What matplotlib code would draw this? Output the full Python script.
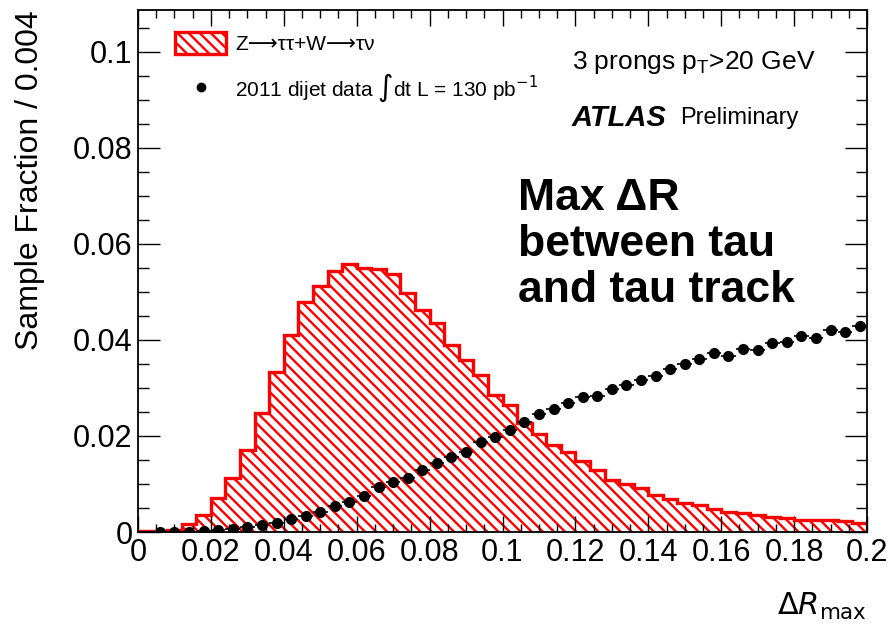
import numpy as np
import matplotlib
matplotlib.use("Agg")
import matplotlib.pyplot as plt
from matplotlib.patches import Patch
from matplotlib.lines import Line2D
from matplotlib.ticker import MultipleLocator

plt.rcParams['font.family'] = ['Liberation Sans', 'DejaVu Sans']
plt.rcParams['hatch.linewidth'] = 1.7
plt.rcParams['hatch.color'] = 'red'

# Bin edges: 50 bins of width 0.004 on [0, 0.2]
bin_edges = np.linspace(0.0, 0.2, 51)

mc_values = [0.0002, 0.0003, 0.0005, 0.0017, 0.0035, 0.0070, 0.0112, 0.0171, 0.0247, 0.0334,
             0.0410, 0.0478, 0.0512, 0.0544, 0.0559, 0.0549, 0.0548, 0.0538, 0.0497, 0.0463,
             0.0435, 0.0390, 0.0358, 0.0327, 0.0285, 0.0265, 0.0226, 0.0205, 0.0181, 0.0167,
             0.0147, 0.0129, 0.0108, 0.0100, 0.0091, 0.0077, 0.0068, 0.0061, 0.0056, 0.0047,
             0.0042, 0.0039, 0.0035, 0.0031, 0.0029, 0.0026, 0.0025, 0.0024, 0.0022, 0.0018]

data_values = [np.nan, 0.0001, 0.0001, 0.0001, 0.0002, 0.0004, 0.0006, 0.0011, 0.0015, 0.0019,
               0.0028, 0.0034, 0.0041, 0.0054, 0.0062, 0.0075, 0.0094, 0.0104, 0.0112, 0.0129,
               0.0143, 0.0157, 0.0167, 0.0187, 0.0197, 0.0212, 0.0230, 0.0245, 0.0256, 0.0268,
               0.0282, 0.0284, 0.0298, 0.0306, 0.0317, 0.0325, 0.0339, 0.0350, 0.0360, 0.0372,
               0.0367, 0.0382, 0.0380, 0.0394, 0.0396, 0.0408, 0.0405, 0.0420, 0.0416, 0.0428]

xticks = [0, 0.02, 0.04, 0.06, 0.08, 0.1, 0.12, 0.14, 0.16, 0.18, 0.2]
xtick_labels = ['0', '0.02', '0.04', '0.06', '0.08', '0.1', '0.12', '0.14', '0.16', '0.18', '0.2']
yticks = [0, 0.02, 0.04, 0.06, 0.08, 0.1]
ytick_labels = ['0', '0.02', '0.04', '0.06', '0.08', '0.1']

fig = plt.figure(figsize=(8.9, 6.26), dpi=100)
ax = fig.add_axes([138/890, 1 - 532/626, (867-138)/890, (532-10)/626])

widths = np.diff(bin_edges)
centers = bin_edges[:-1] + widths / 2

# hatched fill
ax.stairs(mc_values, bin_edges, fill=True, facecolor='white', edgecolor='red',
          hatch='\\\\\\', linewidth=0, zorder=1)
# outline
ax.stairs(mc_values, bin_edges, color='red', linewidth=2.4, zorder=2)

# data points
ax.errorbar(centers, data_values, xerr=widths / 2, fmt='o', color='black',
            markersize=7, elinewidth=1.2, capsize=0, zorder=3)

ax.set_xlim(0, 0.2)
ax.set_ylim(0, 0.1087)
ax.set_xticks(xticks)
ax.set_xticklabels(xtick_labels)
ax.set_yticks(yticks)
ax.set_yticklabels(ytick_labels)
ax.xaxis.set_minor_locator(MultipleLocator(0.005))
ax.yaxis.set_minor_locator(MultipleLocator(0.005))
ax.tick_params(axis='x', which='major', direction='in', length=11.5, width=1,
               top=True, labelsize=22, pad=4)
ax.tick_params(axis='x', which='minor', direction='in', length=5.8, width=1, top=True)
ax.tick_params(axis='y', which='major', direction='in', length=16, width=1,
               right=True, labelsize=22, pad=4)
ax.tick_params(axis='y', which='minor', direction='in', length=8, width=1, right=True)
for s in ax.spines.values():
    s.set_linewidth(1.3)

fig.text(30/890, 1 - 10/626, 'Sample Fraction / 0.004', fontsize=23, rotation=90,
         ha='center', va='top')
fig.text(867/890, 1 - 606/626, r'$\Delta\mathit{R}_{\mathrm{max}}$', fontsize=22,
         ha='right', va='center')

# legend
handles = [Patch(facecolor='white', edgecolor='red', hatch='\\\\\\', linewidth=2.4),
           Line2D([], [], marker='o', color='black', linestyle='none', markersize=6)]
labels = ['Z⟶ττ+W⟶τν', '2011 dijet data ∫dt L = 130 pb$^{-1}$']
ax.legend(handles, labels, loc='upper left', bbox_to_anchor=(0.0508, 0.957),
          frameon=False, fontsize=15, handlelength=2.45, handleheight=1.2,
          handletextpad=0.45, labelspacing=0.85, borderpad=0, borderaxespad=0)

ax.text(572/890, 1 - 62/626, '3 prongs p$_{\\mathregular{T}}$>20 GeV', transform=fig.transFigure,
        fontsize=19, ha='left', va='center')
ax.text(572/890, 1 - 118/626, 'ATLAS', transform=fig.transFigure, fontsize=21,
        fontweight='bold', fontstyle='italic', ha='left', va='center')
ax.text(680/890, 1 - 118/626, 'Preliminary', transform=fig.transFigure, fontsize=17,
        ha='left', va='center')

ax.text(518/890, 1 - 302/626, 'Max ΔR\nbetween tau\nand tau track', transform=fig.transFigure,
        fontsize=32, fontweight='bold', ha='left', va='baseline', linespacing=1.15)

fig.savefig('out.png', dpi=100)
